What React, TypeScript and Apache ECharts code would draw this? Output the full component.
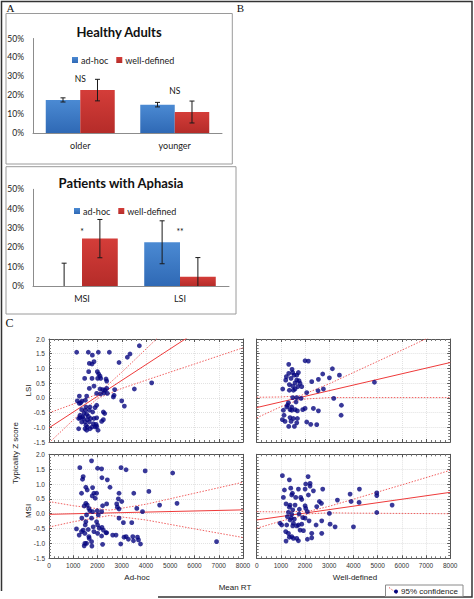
import React, { useEffect, useRef } from "react";
import * as echarts from "echarts";

// ---------- Panel A: bar charts ----------
const healthyCats = ["older", "younger"];
const healthyAdHoc = [17.5, 15.0];
const healthyAdHocErr = [1.1, 1.2];
const healthyWell = [22.7, 11.1];
const healthyWellErr = [5.7, 5.8];
const healthySig = ["NS", "NS"];
const healthySigY = [28.6, 22.2];

const aphasiaCats = ["MSI", "LSI"];
const aphasiaAdHoc = [0, 22.6];
const aphasiaAdHocErr = [11.8, 11.1];
const aphasiaWell = [24.5, 4.8];
const aphasiaWellErr = [9.9, 9.9];
const aphasiaSig = ["*", "**"];
const aphasiaSigY = [28.1, 28.1];

const barTicks = [0, 10, 20, 30, 40, 50];

// ---------- Panel C: scatter plots (Mean RT vs Typicality Z score) ----------
const lsiAdHoc = [
  [1141, 1.55], [1622, 1.55], [1788, 1.45], [2035, 1.55], [2489, 1.55], [3726, 1.77], [3341, 1.49],
  [3231, 1.38], [2888, 1.2], [4235, 0.51], [3520, 0.3], [3108, -0.28], [2998, -0.1], [1664, 1.17],
  [1774, 1.15], [1856, 1.23], [1636, 0.89], [1994, 0.89], [2049, 0.81], [2104, 0.74], [2131, 0.66],
  [2008, 0.66], [1471, 0.66], [1774, 0.66], [2351, 0.64], [2379, 0.57], [1664, 0.32], [1856, 0.4],
  [2104, 0.3], [2214, 0.28], [2310, 0.26], [2379, 0.32], [2709, 0.28], [2131, 0.13], [2269, 0.17],
  [1966, 0.15], [2406, 0.15], [2681, 0.09], [2654, 0.03], [1251, 0.06], [1554, 0.06], [1169, -0.1],
  [1361, -0.11], [1251, -0.19], [1306, -0.17], [1499, -0.08], [1526, -0.31], [1691, -0.31],
  [1898, -0.33], [1966, -0.25], [1664, -0.42], [1499, -0.42], [1348, -0.4], [1444, -0.53],
  [1279, -0.59], [1554, -0.56], [1801, -0.48], [2241, -0.48], [2296, -0.53], [1622, -0.63],
  [1389, -0.65], [1279, -0.67], [1224, -0.7], [1416, -0.7], [1581, -0.74], [1719, -0.7],
  [1856, -0.7], [1966, -0.68], [2241, -0.74], [2172, -0.8], [1348, -0.82], [1485, -0.82],
  [1664, -0.82], [1829, -0.88], [1939, -0.9], [1526, -0.93], [1581, -0.99], [1774, -0.99],
  [1691, -1.05], [1485, -1.05], [1224, -1.05], [1554, -1.1], [1911, -0.99], [2021, -1.1], [1966, -0.97],
];
const lsiWell = [
  [1324, 1.14], [2000, 1.26], [2137, 1.25], [1462, 0.97], [1324, 0.83], [1489, 0.86], [1724, 0.86],
  [1544, 0.77], [1420, 0.66], [1655, 0.6], [1751, 0.58], [1586, 0.51], [1793, 0.49], [1351, 0.45],
  [1489, 0.4], [1696, 0.38], [1862, 0.38], [1076, 0.3], [1351, 0.26], [1586, 0.3], [2068, 0.18],
  [2275, 0.55], [2551, 0.63], [2730, 0.81], [3006, 0.68], [3130, 0.99], [3420, 0.77], [2537, 0.24],
  [2758, 0.3], [4868, 0.53], [1489, 0.01], [1655, 0.01], [1834, -0.02], [1310, -0.17], [1627, -0.14],
  [1269, -0.25], [1448, -0.31], [1379, -0.4], [1586, -0.4], [1682, -0.44], [1903, -0.4], [2000, -0.36],
  [2344, -0.36], [2551, -0.44], [3185, -0.02], [3503, -0.25], [3489, -0.59], [1103, -0.42],
  [1130, -0.59], [1062, -0.74], [1172, -0.8], [1379, -0.67], [1517, -0.7], [1420, -0.8], [1682, -0.7],
  [1655, -0.85], [1324, -0.97], [1558, -0.97], [2068, -0.82], [2234, -0.9], [2482, -0.91],
  [1448, -0.42], [1241, -0.31], [1517, 0.26], [1200, 0.6], [1227, 0.72], [1655, 0.77],
];
const msiAdHoc = [
  [1755, 1.78], [1271, 1.55], [2004, 1.53], [2170, 1.51], [2971, 1.55], [3179, 1.48], [3966, 1.44],
  [5100, 1.37], [1410, 1.25], [1382, 1.16], [2183, 1.21], [2405, 1.14], [2515, 0.89], [1520, 0.89],
  [1576, 0.8], [1797, 0.88], [1962, 0.69], [1852, 0.69], [1341, 0.69], [4118, 0.75], [3496, 0.69],
  [2888, 0.69], [1783, 0.6], [1907, 0.52], [2860, 0.5], [2999, 0.41], [1520, 0.35], [1576, 0.29],
  [2377, 0.33], [2792, 0.33], [2211, 0.27], [4561, 0.29], [5279, 0.35], [1451, 0.26], [1644, 0.18],
  [2819, 0.22], [2888, 0.16], [3621, 0.18], [3856, 0.07], [1686, 0.1], [1990, 0.1], [1797, 0.07],
  [2170, 0.07], [1548, -0.04], [2032, -0.04], [1354, -0.15], [1755, -0.15], [2888, -0.15],
  [1520, -0.27], [1962, -0.27], [3068, -0.3], [3413, -0.3], [1493, -0.38], [1824, -0.44],
  [2004, -0.38], [2073, -0.49], [2183, -0.46], [2239, -0.55], [1133, -0.51], [1410, -0.55],
  [1617, -0.53], [1852, -0.6], [2349, -0.64], [2004, -0.66], [2170, -0.75], [2377, -0.64],
  [1244, -0.72], [1341, -0.6], [1479, -0.66], [1644, -0.77], [2626, -0.72], [2764, -0.72],
  [3096, -0.79], [3179, -0.77], [3275, -0.86], [3649, -0.79], [3455, -0.77], [3690, -0.88],
  [3483, -0.91], [1659, -0.83], [1755, -0.94], [1548, -1.0], [1451, -1.08], [1769, -1.09],
  [2211, -1.03], [2957, -1.02], [3773, -1.02], [6910, -0.94], [1479, -1.0],
];
const msiWell = [
  [1062, 1.28], [2124, 1.25], [1351, 1.14], [2027, 1.0], [2206, 1.02], [2206, 0.93], [1145, 0.8],
  [1407, 0.86], [1724, 0.83], [2000, 0.83], [2730, 0.83], [2344, 0.77], [1476, 0.69], [1448, 0.63],
  [2137, 0.63], [3861, 0.66], [4247, 0.83], [4964, 0.7], [4964, 0.61], [1820, 0.55], [1862, 0.48],
  [1103, 0.55], [1613, 0.55], [2592, 0.41], [2675, 0.35], [3337, 0.46], [3903, 0.41], [4234, 0.38],
  [5599, 0.29], [1214, 0.33], [1379, 0.29], [1586, 0.29], [1351, 0.22], [2000, 0.27], [2027, 0.18],
  [2482, 0.24], [1489, 0.13], [1765, 0.15], [2096, 0.07], [1310, 0.05], [3006, 0.01], [4964, 0.04],
  [1448, -0.02], [1751, -0.01], [1269, -0.1], [1434, -0.15], [1903, -0.13], [2000, -0.15],
  [1379, -0.21], [1558, -0.18], [2689, -0.24], [2165, -0.24], [965, -0.32], [1034, -0.38],
  [1241, -0.38], [1517, -0.32], [1489, -0.41], [1655, -0.41], [1724, -0.38], [1862, -0.35],
  [2455, -0.38], [3034, -0.35], [3241, -0.44], [4000, -0.44], [1200, -0.6], [1310, -0.66],
  [1793, -0.55], [1931, -0.57], [2275, -0.66], [2689, -0.66], [1448, -0.77], [1517, -0.83],
  [1655, -0.83], [1214, -0.92], [1351, -0.79], [1724, -0.91], [2096, -0.86], [2275, -0.81],
];

// regression lines and 95% confidence bands
const lsiAdHocFit = [[0, -1.02], [8000, 3.28]];
const lsiAdHocUpper = [[0, -0.51], [1000, -0.21], [2000, 0.13], [3000, 0.87], [4000, 1.66], [5000, 2.45]];
const lsiAdHocLower = [[0, -1.53], [1000, -0.75], [2000, -0.02], [3000, 0.32], [4000, 0.6], [6000, 1.15], [8000, 1.7]];
const lsiWellFit = [[0, -0.33], [8000, 1.2]];
const lsiWellUpper = [[0, 0.02], [1000, 0.03], [1800, 0.07], [3000, 0.48], [4000, 0.86], [6000, 1.62], [8000, 2.39]];
const lsiWellLower = [[0, -0.68], [1000, -0.3], [1800, -0.05], [3000, 0.01], [4000, 0.01], [6000, 0.01], [8000, 0.01]];
const msiAdHocFit = [[0, -0.02], [8000, 0.13]];
const msiAdHocUpper = [[0, 0.41], [1000, 0.27], [2500, 0.12], [4000, 0.32], [6000, 0.69], [8000, 1.06]];
const msiAdHocLower = [[0, -0.45], [1000, -0.27], [2500, -0.06], [4000, -0.21], [6000, -0.51], [8000, -0.8]];
const msiWellFit = [[0, -0.21], [8000, 0.72]];
const msiWellUpper = [[0, 0.07], [1000, 0.06], [2200, 0.09], [3000, 0.25], [4000, 0.49], [6000, 0.97], [8000, 1.46]];
const msiWellLower = [[0, -0.49], [1000, -0.25], [2200, 0.0], [3000, 0.03], [4000, 0.02], [6000, 0.01], [8000, 0.0]];

const rtMin = 0;
const rtMax = 8000;
const rtStep = 1000;
const zMin = -1.5;
const zMax = 2.0;
const zStep = 0.5;

const SANS = "Liberation Sans, Arial, sans-serif";
const CAL = "Lato, 'Open Sans', sans-serif";

function barGradient(top: string, bottom: string) {
  return new echarts.graphic.LinearGradient(0, 0, 0, 1, [
    { offset: 0, color: top },
    { offset: 1, color: bottom },
  ]);
}

function errorRender(params: any, api: any) {
  const cat = api.value(0);
  const s = api.value(1);
  const v = api.value(2);
  const e = api.value(3);
  const bw = api.size([1, 0])[0];
  const barW = (bw * 0.73) / 2;
  const c = api.coord([cat, v]);
  const x = c[0] + (s === 0 ? -barW / 2 : barW / 2);
  const lo = Math.max(0, v - e);
  const yTop = api.coord([cat, v + e])[1];
  const yBot = api.coord([cat, lo])[1];
  const st = { stroke: "#1a1a1a", lineWidth: 1 };
  const children: any[] = [
    { type: "line", shape: { x1: x, y1: yTop, x2: x, y2: yBot }, style: st },
    { type: "line", shape: { x1: x - 2.5, y1: yTop, x2: x + 2.5, y2: yTop }, style: st },
  ];
  if (v - e > 0) {
    children.push({ type: "line", shape: { x1: x - 2.5, y1: yBot, x2: x + 2.5, y2: yBot }, style: st });
  }
  return { type: "group", children };
}

function sigRender(labels: string[]) {
  return (params: any, api: any) => {
    const c = api.coord([api.value(0), api.value(1)]);
    return {
      type: "text",
      x: c[0],
      y: c[1],
      style: {
        text: labels[params.dataIndex],
        fontSize: 8.5,
        fontFamily: CAL,
        fill: "#111",
        align: "center",
        verticalAlign: "middle",
        textAlign: "center",
        textVerticalAlign: "middle",
      },
    };
  };
}

function txt(text: string, x: number, y: number, fontSize: number, extra: any = {}) {
  return {
    type: "text",
    x,
    y,
    rotation: extra.rotation || 0,
    style: {
      text,
      fontSize,
      fontFamily: extra.fontFamily || SANS,
      fontWeight: extra.fontWeight || "normal",
      fill: extra.fill || "#222",
      align: extra.align || "center",
      verticalAlign: "middle",
      textAlign: extra.align || "center",
      textVerticalAlign: "middle",
    },
  };
}

export default function App() {
  const ref = useRef<HTMLDivElement>(null);

  useEffect(() => {
    if (!ref.current) return;
    const chart = echarts.init(ref.current, null, { renderer: "svg" });

    const grids: any[] = [
      { left: 33, top: 38.5, width: 189, height: 94.5 },
      { left: 33, top: 189.3, width: 196, height: 96.7 },
      { left: 49, top: 339, width: 194, height: 103 },
      { left: 256.7, top: 339, width: 193.5, height: 103 },
      { left: 49, top: 454.3, width: 194, height: 104 },
      { left: 256.7, top: 454.3, width: 193.5, height: 104 },
    ];

    const xAxes: any[] = [];
    const yAxes: any[] = [];

    const barX = (gi: number, cats: string[]) => ({
      type: "category",
      gridIndex: gi,
      data: cats,
      axisLine: { show: true, lineStyle: { color: "#8c8c8c" } },
      axisTick: { show: false },
      axisLabel: { fontSize: 9, fontFamily: CAL, color: "#1a1a1a", margin: 8 },
      splitLine: { show: false },
    });
    const barY = (gi: number) => ({
      type: "value",
      gridIndex: gi,
      min: barTicks[0],
      max: barTicks[barTicks.length - 1],
      interval: barTicks[1] - barTicks[0],
      axisLine: { show: true, lineStyle: { color: "#8c8c8c" } },
      axisTick: { show: false },
      axisLabel: { fontSize: 8.5, fontFamily: CAL, color: "#1a1a1a", margin: 9, formatter: "{value}%" },
      splitLine: { show: false },
    });
    xAxes.push(barX(0, healthyCats), barX(1, aphasiaCats));
    yAxes.push(barY(0), barY(1));

    const frameColor = "#555";
    const scatX = (gi: number, position: string, labels: boolean, grid: boolean) => ({
      type: "value",
      gridIndex: gi,
      position,
      min: rtMin,
      max: rtMax,
      interval: rtStep,
      axisLine: { show: true, onZero: false, lineStyle: { color: frameColor } },
      axisTick: { show: true, inside: true, length: 3, lineStyle: { color: frameColor } },
      minorTick: { show: true, splitNumber: 5, length: 2, lineStyle: { color: "#777" } },
      axisLabel: {
        show: labels,
        fontSize: 6.5,
        fontFamily: SANS,
        color: "#333",
        margin: 4,
        formatter: (v: number) => String(Math.round(v)),
      },
      splitLine: { show: grid, lineStyle: { color: "#e2e2e2", type: "dotted" } },
      minorSplitLine: { show: false },
    });
    const scatY = (gi: number, position: string, labels: boolean, grid: boolean) => ({
      type: "value",
      gridIndex: gi,
      position,
      min: zMin,
      max: zMax,
      interval: zStep,
      axisLine: { show: true, onZero: false, lineStyle: { color: frameColor } },
      axisTick: { show: true, inside: true, length: 3, lineStyle: { color: frameColor } },
      minorTick: { show: true, splitNumber: 5, length: 2, lineStyle: { color: "#777" } },
      axisLabel: {
        show: labels,
        fontSize: 6.5,
        fontFamily: SANS,
        color: "#333",
        margin: 4,
        formatter: (v: number) => v.toFixed(1),
      },
      splitLine: { show: grid, lineStyle: { color: "#e2e2e2", type: "dotted" } },
    });

    const panels = [
      { gi: 2, xl: false, yl: true, pts: lsiAdHoc, fit: lsiAdHocFit, up: lsiAdHocUpper, lo: lsiAdHocLower },
      { gi: 3, xl: false, yl: false, pts: lsiWell, fit: lsiWellFit, up: lsiWellUpper, lo: lsiWellLower },
      { gi: 4, xl: true, yl: true, pts: msiAdHoc, fit: msiAdHocFit, up: msiAdHocUpper, lo: msiAdHocLower },
      { gi: 5, xl: true, yl: false, pts: msiWell, fit: msiWellFit, up: msiWellUpper, lo: msiWellLower },
    ];

    const blueFill = barGradient("#4b8ad3", "#2f69b5");
    const redFill = barGradient("#d43d39", "#b52c29");

    const series: any[] = [
      { name: "ad-hoc", type: "bar", xAxisIndex: 0, yAxisIndex: 0, data: healthyAdHoc, barGap: "0%", barCategoryGap: "27%", itemStyle: { color: blueFill } },
      { name: "well-defined", type: "bar", xAxisIndex: 0, yAxisIndex: 0, data: healthyWell, barGap: "0%", barCategoryGap: "27%", itemStyle: { color: redFill } },
      { name: "ad-hoc", type: "bar", xAxisIndex: 1, yAxisIndex: 1, data: aphasiaAdHoc, barGap: "0%", barCategoryGap: "27%", itemStyle: { color: blueFill } },
      { name: "well-defined", type: "bar", xAxisIndex: 1, yAxisIndex: 1, data: aphasiaWell, barGap: "0%", barCategoryGap: "27%", itemStyle: { color: redFill } },
      {
        type: "custom",
        xAxisIndex: 0,
        yAxisIndex: 0,
        z: 5,
        renderItem: errorRender,
        data: [
          ...healthyAdHoc.map((v, i) => [i, 0, v, healthyAdHocErr[i]]),
          ...healthyWell.map((v, i) => [i, 1, v, healthyWellErr[i]]),
        ],
      },
      {
        type: "custom",
        xAxisIndex: 1,
        yAxisIndex: 1,
        z: 5,
        renderItem: errorRender,
        data: [
          ...aphasiaAdHoc.map((v, i) => [i, 0, v, aphasiaAdHocErr[i]]),
          ...aphasiaWell.map((v, i) => [i, 1, v, aphasiaWellErr[i]]),
        ],
      },
      { type: "custom", xAxisIndex: 0, yAxisIndex: 0, z: 5, renderItem: sigRender(healthySig), data: healthySigY.map((v, i) => [i, v]) },
      { type: "custom", xAxisIndex: 1, yAxisIndex: 1, z: 5, renderItem: sigRender(aphasiaSig), data: aphasiaSigY.map((v, i) => [i, v]) },
    ];

    panels.forEach((p) => {
      const xi = xAxes.length;
      xAxes.push(scatX(p.gi, "bottom", p.xl, true), scatX(p.gi, "top", false, false));
      const yi = yAxes.length;
      yAxes.push(scatY(p.gi, "left", p.yl, true), scatY(p.gi, "right", false, false));
      const lineBase = { type: "line", xAxisIndex: xi, yAxisIndex: yi, symbol: "none", silent: true, clip: true };
      series.push(
        { ...lineBase, data: p.up, z: 3, lineStyle: { color: "#f06060", width: 1, type: [1.5, 1.5] } },
        { ...lineBase, data: p.lo, z: 3, lineStyle: { color: "#f06060", width: 1, type: [1.5, 1.5] } },
        { ...lineBase, data: p.fit, z: 3, lineStyle: { color: "#ee3a3a", width: 1 } },
        {
          name: "95% confidence",
          type: "scatter",
          xAxisIndex: xi,
          yAxisIndex: yi,
          data: p.pts,
          symbolSize: 4.8,
          z: 4,
          itemStyle: { color: "#06067f" },
        }
      );
    });

    const graphic: any[] = [
      {
        type: "polyline",
        shape: { points: [[1.5, 591], [1.5, 1.5], [472, 1.5], [472, 597], [158, 597]] },
        style: { stroke: "#333", lineWidth: 1.5, fill: null },
      },
      { type: "rect", shape: { x: 6, y: 13.5, width: 226.3, height: 150.5 }, style: { stroke: "#9a9a9a", fill: null, lineWidth: 1 } },
      { type: "rect", shape: { x: 6, y: 166.7, width: 230, height: 147.3 }, style: { stroke: "#9a9a9a", fill: null, lineWidth: 1 } },
      txt("A", 10.5, 8, 11, { fontFamily: "Liberation Serif, serif", fill: "#111" }),
      txt("B", 240.5, 8, 11, { fontFamily: "Liberation Serif, serif", fill: "#111" }),
      txt("C", 9.5, 322.5, 12, { fontFamily: "Liberation Serif, serif", fill: "#111" }),
      txt("Healthy Adults", 119, 32, 13, { fontFamily: CAL, fontWeight: "bold", fill: "#111" }),
      txt("Patients with Aphasia", 121, 182.7, 13, { fontFamily: CAL, fontWeight: "bold", fill: "#111" }),
      txt("Typicality Z score", 15, 453, 8, { rotation: Math.PI / 2 }),
      txt("LSI", 28, 390.5, 8, { rotation: Math.PI / 2 }),
      txt("MSI", 28, 511, 8, { rotation: Math.PI / 2 }),
      txt("Ad-hoc", 137, 577.5, 8),
      txt("Well-defined", 355, 577.5, 8),
      txt("Mean RT", 235, 587.5, 8),
      { type: "rect", shape: { x: 385.5, y: 585, width: 77.5, height: 11.5 }, style: { stroke: "#8a8a8a", fill: "#fff", lineWidth: 1 } },
      { type: "line", shape: { x1: 389, y1: 587.5, x2: 397, y2: 593.5 }, style: { stroke: "#f06060", lineWidth: 1, lineDash: [1.5, 1.5] } },
      { type: "circle", shape: { cx: 396, cy: 591.5, r: 2 }, style: { fill: "#06067f" } },
      txt("95% confidence", 401, 591, 8, { align: "left" }),
    ];

    const legendBase = {
      data: ["ad-hoc", "well-defined"],
      icon: "rect",
      itemWidth: 6,
      itemHeight: 6,
      itemGap: 8,
      selectedMode: false,
      textStyle: { fontSize: 9, fontFamily: CAL, color: "#1a1a1a", padding: [0, 0, 0, -2] },
    };

    chart.setOption({
      animation: false,
      backgroundColor: "#fff",
      grid: grids,
      xAxis: xAxes,
      yAxis: yAxes,
      legend: [
        { ...legendBase, left: 67, top: 50.5 },
        { ...legendBase, left: 69, top: 201.5 },
      ],
      series,
      graphic,
    });

    return () => chart.dispose();
  }, []);

  return (
    <div
      ref={ref}
      style={{ position: "fixed", left: 0, top: 0, width: 474, height: 599, background: "#fff" }}
    />
  );
}
